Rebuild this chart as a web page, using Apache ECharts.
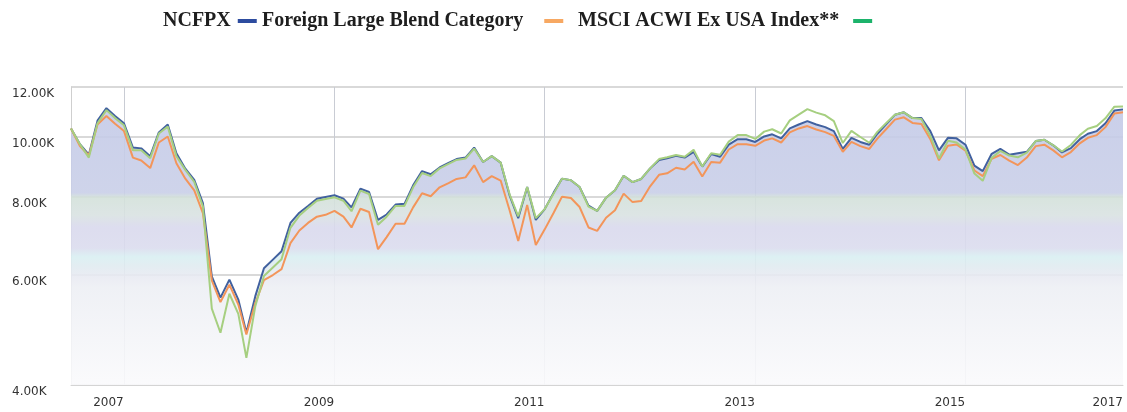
<!DOCTYPE html>
<html>
<head>
<meta charset="utf-8">
<script src="https://cdn.jsdelivr.net/npm/echarts@6/dist/echarts.min.js"></script>
<style>
  html, body { margin: 0; padding: 0; background: #fff; }
  #chart { width: 1127px; height: 412px; }
</style>
</head>
<body>
<div id="chart"></div>
<script>
// monthly points, first one is July 2007
const startYear = 2007;
const startMonth = 6; // 0-based, July

const ncfpx = [
  10300, 9720, 9350, 10600, 11100, 10780, 10500, 9600, 9570, 9300,
  10150, 10450, 9400, 8880, 8520, 7820, 5970, 5520, 5900, 5480,
  4850, 5550, 6150, 6350, 6550, 7270, 7550, 7740, 7950, 8000,
  8050, 7950, 7700, 8250, 8150, 7350, 7500, 7780, 7800, 8350,
  8800, 8700, 8920, 9070, 9200, 9250, 9600, 9100, 9300, 9080,
  8050, 7400, 8300, 7350, 7650, 8130, 8560, 8510, 8300, 7750,
  7600, 7980, 8200, 8650, 8450, 8550, 8890, 9170, 9230, 9310,
  9250, 9450, 8950, 9370, 9280, 9700, 9900, 9900, 9800, 10000,
  10080, 9930, 10300, 10450, 10580, 10450, 10350, 10200, 9550, 9950,
  9800, 9700, 10100, 10470, 10830, 10930, 10700, 10700, 10200, 9500,
  9950, 9930, 9700, 8980, 8800, 9380, 9550, 9350, 9400, 9450,
  9830, 9880, 9680, 9430, 9580, 9900, 10100, 10200, 10500, 11000,
  11050
];

const foreignLargeBlend = [
  10300, 9650, 9320, 10450, 10780, 10480, 10200, 9250, 9150, 8900,
  9780, 10000, 9060, 8560, 8200, 7540, 5880, 5430, 5790, 5380,
  4820, 5410, 5890, 6000, 6130, 6750, 7070, 7270, 7440, 7490,
  7600, 7440, 7150, 7660, 7570, 6600, 6900, 7250, 7250, 7700,
  8110, 8020, 8290, 8420, 8550, 8600, 8990, 8450, 8640, 8500,
  7620, 6800, 7770, 6700, 7100, 7550, 8010, 7970, 7710, 7150,
  7060, 7410, 7620, 8100, 7850, 7880, 8320, 8680, 8730, 8910,
  8850, 9110, 8630, 9100, 9080, 9530, 9720, 9720, 9660, 9850,
  9930, 9780, 10150, 10300, 10390, 10260, 10160, 10020, 9450, 9800,
  9650, 9550, 9920, 10280, 10640, 10730, 10510, 10470, 9900, 9160,
  9660, 9710, 9490, 8820, 8640, 9210, 9340, 9150, 9000, 9250,
  9650, 9700, 9500, 9260, 9440, 9750, 9950, 10050, 10350, 10880,
  10930
];

const msciAcwiExUsa = [
  10300, 9720, 9250, 10500, 11020, 10700, 10420, 9500, 9500, 9230,
  10110, 10370, 9300, 8840, 8460, 7730, 5300, 4850, 5600, 5200,
  4420, 5350, 5980, 6170, 6360, 7140, 7470, 7680, 7890, 7940,
  7990, 7890, 7590, 8190, 8090, 7220, 7440, 7740, 7740, 8290,
  8740, 8640, 8890, 9040, 9170, 9220, 9560, 9100, 9300, 9080,
  8080, 7450, 8300, 7400, 7650, 8100, 8560, 8510, 8300, 7720,
  7600, 7980, 8200, 8650, 8450, 8550, 8890, 9200, 9260, 9340,
  9280, 9520, 8950, 9400, 9350, 9810, 10050, 10050, 9910, 10180,
  10270, 10110, 10610, 10840, 11060, 10920, 10810, 10580, 9760, 10210,
  9980, 9770, 10170, 10510, 10830, 10930, 10700, 10660, 10020, 9220,
  9840, 9780, 9530, 8720, 8490, 9240, 9480, 9320, 9260, 9420,
  9830, 9880, 9680, 9460, 9690, 10050, 10290, 10390, 10690, 11160,
  11170
];

const yTicks = [4000, 6000, 8000, 10000, 12000];
const xGridDates = ['2008-01-01', '2010-01-01', '2012-01-01', '2014-01-01', '2016-01-01'];
const xLabelDates = ['2007-12-31', '2009-12-31', '2011-12-31', '2013-12-31', '2015-12-31', '2017-07-01'];

const ts = (s) => {
  const p = s.split('-').map(Number);
  return new Date(p[0], p[1] - 1, p[2]).getTime();
};
const dates = ncfpx.map((_, i) => new Date(startYear, startMonth + i, 1).getTime());
const pairs = (arr) => arr.map((v, i) => [dates[i], v]);

const chart = echarts.init(document.getElementById('chart'));

const legendText = {
  fontFamily: 'Liberation Serif',
  fontWeight: 'bold',
  fontSize: 20,
  color: '#1e1e1e'
};

const areaFill = new echarts.graphic.LinearGradient(0, 87, 0, 385, [
  { offset: 0, color: '#c3c9e7' },
  { offset: 0.355, color: '#c9cfe8' },
  { offset: 0.37, color: '#d3e1da' },
  { offset: 0.43, color: '#d9e2e2' },
  { offset: 0.47, color: '#d9d9ed' },
  { offset: 0.54, color: '#dbdcee' },
  { offset: 0.57, color: '#d9eff2' },
  { offset: 0.6, color: '#e0ebf0' },
  { offset: 0.635, color: '#e8eaf2' },
  { offset: 0.67, color: '#edeff4' },
  { offset: 1, color: '#fafafc' }
], true);

chart.setOption({
  animation: false,
  backgroundColor: '#fff',
  legend: [
    {
      left: 163, top: 11, padding: 0, align: 'right', icon: 'rect',
      itemWidth: 19, itemHeight: 4, selectedMode: false,
      textStyle: Object.assign({ padding: [0, 2, 0, 0] }, legendText),
      data: [{ name: 'NCFPX', itemStyle: { color: '#2d4c9f' } }]
    },
    {
      left: 262, top: 11, padding: 0, align: 'right', icon: 'rect',
      itemWidth: 19, itemHeight: 4, selectedMode: false,
      textStyle: Object.assign({ padding: [0, 16, 0, 0] }, legendText),
      data: [{ name: 'Foreign Large Blend Category', itemStyle: { color: '#f7a862' } }]
    },
    {
      left: 578, top: 11, padding: 0, align: 'right', icon: 'rect',
      itemWidth: 19, itemHeight: 4, selectedMode: false,
      textStyle: Object.assign({ padding: [0, 9, 0, 0] }, legendText),
      data: [{ name: 'MSCI ACWI Ex USA Index**', itemStyle: { color: '#1cb36b' } }]
    }
  ],
  grid: { left: 71, right: 4, top: 87, bottom: 27 },
  xAxis: {
    type: 'value',
    min: ts('2007-07-01'),
    max: ts('2017-07-01'),
    axisLine: { show: true, lineStyle: { color: '#d4d4d4', width: 1 } },
    axisTick: { show: false, customValues: xGridDates.map(ts) },
    splitLine: { show: true, lineStyle: { color: '#c9ccd4', width: 1 } },
    axisLabel: {
      customValues: xLabelDates.map(ts),
      align: 'right',
      margin: 12,
      fontFamily: 'DejaVu Sans',
      fontSize: 12,
      color: '#333',
      formatter: (v) => String(new Date(v).getFullYear())
    }
  },
  yAxis: {
    type: 'log',
    min: 4000,
    max: 12000,
    axisLine: { show: true, lineStyle: { color: '#cfcfcf', width: 1 } },
    axisTick: { show: false, customValues: yTicks },
    splitLine: { show: true, lineStyle: { color: '#d9d9d9', width: 2 } },
    axisLabel: {
      customValues: yTicks,
      align: 'left',
      verticalAlign: 'top',
      padding: [1, 0, 0, 0],
      margin: 59,
      fontFamily: 'DejaVu Sans',
      fontSize: 12,
      color: '#333',
      formatter: (v) => (v / 1000).toFixed(2) + 'K'
    }
  },
  series: [
    {
      name: 'NCFPX',
      type: 'line',
      data: pairs(ncfpx),
      showSymbol: false,
      lineStyle: { color: '#41619f', width: 2 },
      itemStyle: { color: '#41619f' },
      areaStyle: { color: areaFill, opacity: 0.9, origin: 'start' },
      z: 2
    },
    {
      name: 'Foreign Large Blend Category',
      type: 'line',
      data: pairs(foreignLargeBlend),
      showSymbol: false,
      lineStyle: { color: '#f3955a', width: 2 },
      itemStyle: { color: '#f3955a' },
      z: 3
    },
    {
      name: 'MSCI ACWI Ex USA Index**',
      type: 'line',
      data: pairs(msciAcwiExUsa),
      showSymbol: false,
      lineStyle: { color: '#a6cf80', width: 2 },
      itemStyle: { color: '#a6cf80' },
      z: 4
    }
  ]
});
</script>
</body>
</html>
